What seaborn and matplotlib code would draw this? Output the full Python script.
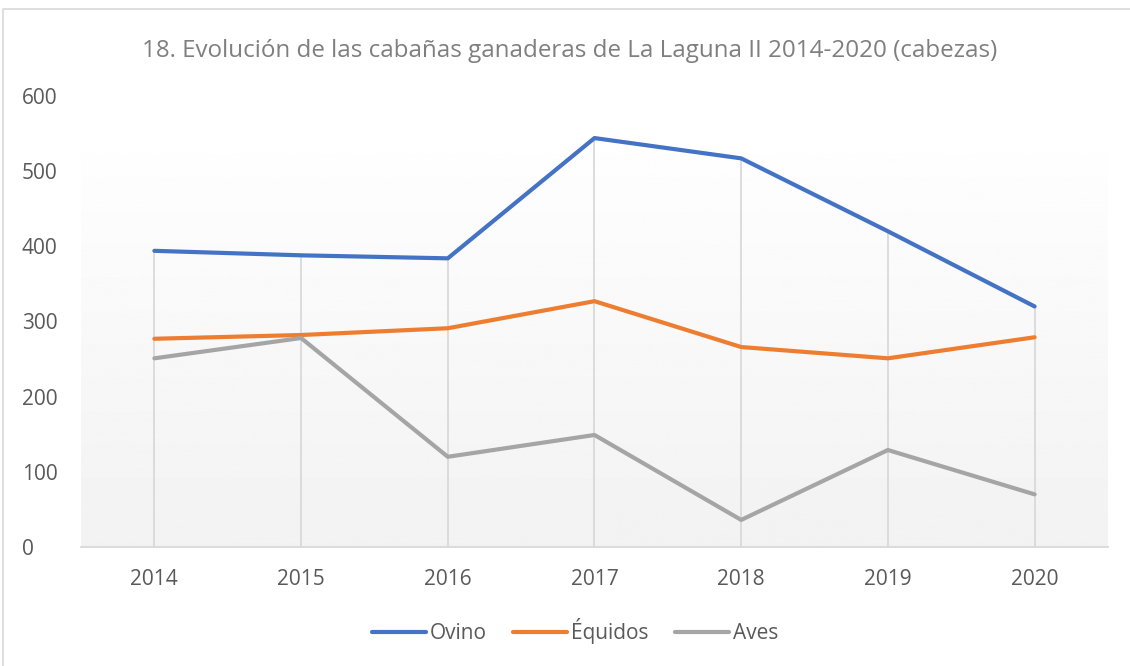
import numpy as np
import pandas as pd
import seaborn as sns
import matplotlib.pyplot as plt
from matplotlib.lines import Line2D

# --- Data ---
years = ['2014', '2015', '2016', '2017', '2018', '2019', '2020']
ovino = [394, 388, 384, 544, 517, 420, 320]
equidos = [277, 282, 291, 327, 266, 251, 279]
aves = [251, 278, 120, 149, 36, 129, 70]
series_names = ['Ovino', 'Équidos', 'Aves']
colors = ['#4472C4', '#ED7D31', '#A5A5A5']

df = pd.DataFrame({
    'year': years * 3,
    'value': ovino + equidos + aves,
    'serie': np.repeat(series_names, len(years)),
})

sns.set_theme(style='white')
plt.rcParams['font.family'] = ['Open Sans', 'DejaVu Sans']

fig = plt.figure(figsize=(11.3, 6.66), dpi=100)
ax = fig.add_axes([0.0717, 0.1787, 0.9088, 0.6772])

# chart border (only top and left are visible in the original crop)
fig.lines.append(Line2D([0.003, 0.003, 1.0], [0.0, 0.986, 0.986], transform=fig.transFigure,
                        color='#d9d9d9', linewidth=1.2))

# soft gradient background in the plot area
grad = np.linspace(0.949, 0.995, 256).reshape(-1, 1)
ax.imshow(grad, extent=(-0.5, 6.5, 0, 524), origin='lower', aspect='auto',
          cmap='gray', vmin=0, vmax=1, zorder=0)

# drop lines from the highest series down to the axis
tops = np.max([ovino, equidos, aves], axis=0)
ax.vlines(range(len(years)), 0, tops, color='#d9d9d9', linewidth=1.3, zorder=1)

sns.lineplot(data=df, x='year', y='value', hue='serie', palette=colors,
             linewidth=3, sort=False, ax=ax, zorder=3,
             solid_capstyle='round', solid_joinstyle='round')

ax.set_xlim(-0.5, 6.5)
ax.set_ylim(0, 600)
ax.set_yticks(range(0, 601, 100))
ax.set_xlabel('')
ax.set_ylabel('')
ax.set_title('18. Evolución de las cabañas ganaderas de La Laguna II 2014-2020 (cabezas)',
             fontsize=17.4, color='#7f7f7f', pad=28, x=0.476)
ax.tick_params(axis='both', labelsize=15, colors='#595959', length=0)
ax.tick_params(axis='x', pad=16)
ax.tick_params(axis='y', pad=42.5)
for lab in ax.get_yticklabels():
    lab.set_horizontalalignment('left')
for side in ['top', 'right', 'left']:
    ax.spines[side].set_visible(False)
ax.spines['bottom'].set_color('#d9d9d9')
ax.spines['bottom'].set_linewidth(1.3)
ax.set_facecolor('white')

leg = ax.legend(loc='center', bbox_to_anchor=(0.481, -0.186), ncol=3, frameon=False,
                fontsize=15, handlelength=2.6, handletextpad=0.2, columnspacing=1.25)
for t in leg.get_texts():
    t.set_color('#595959')
for h in leg.get_lines():
    h.set_linewidth(3)
    h.set_solid_capstyle('round')

fig.savefig('out.png', dpi=100)
